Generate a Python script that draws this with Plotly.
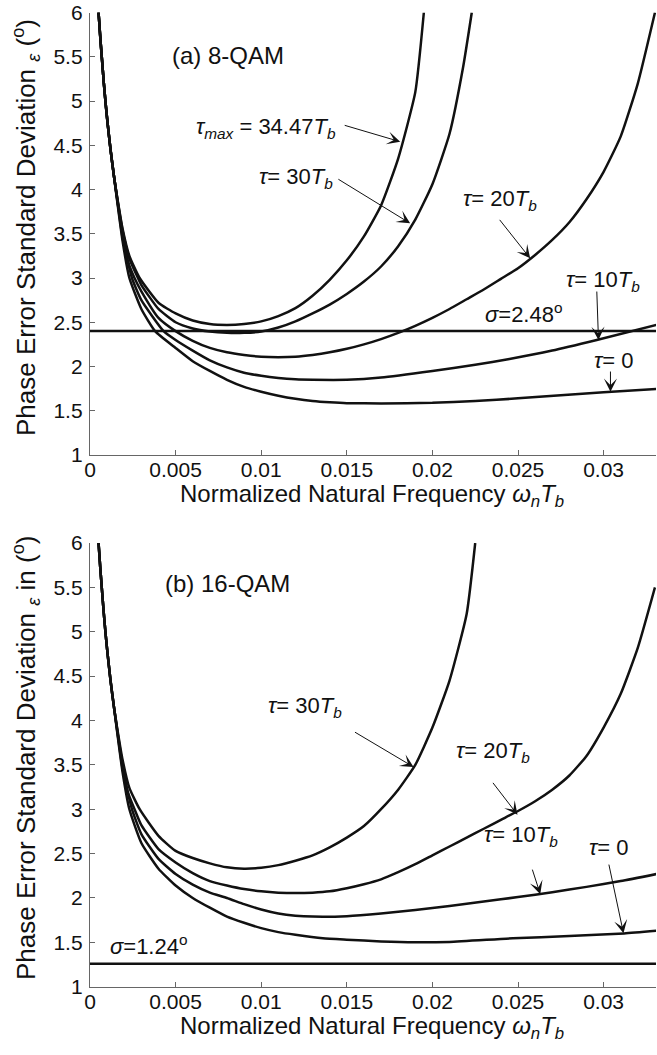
import plotly.graph_objects as go

# ---------------- data ----------------
x_ticks = [0, 0.005, 0.01, 0.015, 0.02, 0.025, 0.03]
x_tick_labels = ["0", "0.005", "0.01", "0.015", "0.02", "0.025", "0.03"]
y_ticks = [1, 1.5, 2, 2.5, 3, 3.5, 4, 4.5, 5, 5.5, 6]
y_tick_labels = ["1", "1.5", "2", "2.5", "3", "3.5", "4", "4.5", "5", "5.5", "6"]

# common steep start (all curves nearly coincide here)
x_start = [0.0005, 0.0006, 0.0007, 0.0008, 0.0009, 0.001, 0.0012, 0.0014]
y_start = [6.0, 5.72, 5.47, 5.22, 5.0, 4.8, 4.45, 4.15]

# (a) 8-QAM
xa_t0 = x_start + [0.0016, 0.0019, 0.0023, 0.003, 0.0038, 0.005, 0.006, 0.007, 0.008, 0.009, 0.010,
                   0.011, 0.012, 0.013, 0.014, 0.015, 0.017, 0.020, 0.0225, 0.025, 0.0275, 0.030,
                   0.0331]
ya_t0 = y_start + [3.85, 3.42, 3.0, 2.65, 2.40, 2.21, 2.06, 1.95, 1.85, 1.77, 1.715,
                   1.67, 1.635, 1.61, 1.595, 1.585, 1.583, 1.59, 1.61, 1.64, 1.675, 1.71,
                   1.745]

xa_t10 = x_start + [0.0016, 0.0019, 0.00245, 0.003, 0.0043, 0.005, 0.006, 0.007, 0.008, 0.009, 0.010,
                    0.011, 0.012, 0.013, 0.015, 0.017, 0.020, 0.0225, 0.0245, 0.027, 0.0296, 0.0331]
ya_t10 = y_start + [3.87, 3.46, 3.0, 2.75, 2.40, 2.30, 2.18, 2.07, 1.99, 1.93, 1.895,
                    1.87, 1.855, 1.85, 1.85, 1.875, 1.95, 2.02, 2.085, 2.18, 2.30, 2.47]

xa_t20 = x_start + [0.0016, 0.0019, 0.0022, 0.0026, 0.003, 0.004, 0.005, 0.006, 0.007, 0.008, 0.009,
                    0.010, 0.011, 0.012, 0.013, 0.014, 0.015, 0.016, 0.017, 0.018, 0.019, 0.020,
                    0.021, 0.022, 0.023, 0.024, 0.025, 0.026, 0.027, 0.028, 0.029, 0.030, 0.031,
                    0.032, 0.033]
ya_t20 = y_start + [3.88, 3.5, 3.2, 3.0, 2.85, 2.55, 2.40, 2.29, 2.21, 2.16, 2.13,
                    2.11, 2.105, 2.11, 2.13, 2.16, 2.2, 2.25, 2.31, 2.38, 2.46, 2.55,
                    2.65, 2.76, 2.87, 2.99, 3.11, 3.26, 3.43, 3.63, 3.89, 4.2, 4.6,
                    5.2, 6.0]

xa_t30 = x_start + [0.0016, 0.0019, 0.0023, 0.0028, 0.003, 0.004, 0.005, 0.006, 0.007, 0.008, 0.009,
                    0.010, 0.011, 0.012, 0.013, 0.014, 0.015, 0.016, 0.017, 0.018, 0.019, 0.020,
                    0.021, 0.0218, 0.0223]
ya_t30 = y_start + [3.89, 3.54, 3.22, 3.0, 2.92, 2.65, 2.50, 2.43, 2.395, 2.38, 2.38,
                    2.395, 2.44, 2.51, 2.6, 2.7, 2.82, 2.96, 3.13, 3.36, 3.66, 4.06,
                    4.63, 5.39, 6.0]

xa_tmax = x_start + [0.0016, 0.0019, 0.0023, 0.0029, 0.004, 0.005, 0.006, 0.007, 0.008, 0.009, 0.010,
                     0.011, 0.012, 0.013, 0.014, 0.015, 0.016, 0.017, 0.018, 0.019, 0.0195]
ya_tmax = y_start + [3.90, 3.56, 3.25, 3.0, 2.72, 2.60, 2.52, 2.48, 2.47, 2.48, 2.51,
                     2.57, 2.66, 2.80, 2.98, 3.2, 3.47, 3.82, 4.35, 5.1, 6.0]

sigma_a = 2.40   # drawn level of the sigma = 2.48 deg line

# (b) 16-QAM
xb_t0 = x_start + [0.0016, 0.0019, 0.0023, 0.003, 0.004, 0.005, 0.006, 0.007, 0.008, 0.009, 0.010,
                   0.011, 0.012, 0.0136, 0.015, 0.017, 0.019, 0.021, 0.0247, 0.028, 0.0312, 0.0331]
yb_t0 = y_start + [3.85, 3.42, 3.0, 2.62, 2.33, 2.14, 2.0, 1.89, 1.79, 1.72, 1.66,
                   1.615, 1.585, 1.546, 1.53, 1.51, 1.50, 1.505, 1.546, 1.57, 1.60, 1.63]

xb_t10 = x_start + [0.0016, 0.0019, 0.00245, 0.003, 0.004, 0.005, 0.006, 0.007, 0.008, 0.009, 0.010,
                    0.011, 0.012, 0.013, 0.015, 0.017, 0.019, 0.021, 0.023, 0.025, 0.027, 0.029,
                    0.031, 0.0331]
yb_t10 = y_start + [3.87, 3.46, 3.0, 2.72, 2.44, 2.27, 2.15, 2.06, 2.0, 1.93, 1.87,
                    1.825, 1.80, 1.79, 1.795, 1.825, 1.865, 1.91, 1.96, 2.01, 2.065, 2.125,
                    2.19, 2.27]

xb_t20 = x_start + [0.0016, 0.0019, 0.0022, 0.0026, 0.003, 0.004, 0.005, 0.006, 0.007, 0.008, 0.009,
                    0.010, 0.011, 0.012, 0.013, 0.014, 0.015, 0.016, 0.017, 0.018, 0.019, 0.020,
                    0.021, 0.022, 0.023, 0.024, 0.025, 0.026, 0.027, 0.028, 0.029, 0.030, 0.031,
                    0.032, 0.033]
yb_t20 = y_start + [3.88, 3.5, 3.2, 3.0, 2.82, 2.55, 2.40, 2.28, 2.19, 2.14, 2.10,
                    2.075, 2.06, 2.055, 2.06, 2.075, 2.11, 2.155, 2.21, 2.29, 2.38, 2.48,
                    2.58, 2.68, 2.78, 2.88, 2.98, 3.09, 3.22, 3.38, 3.6, 3.92, 4.3,
                    4.82, 5.5]

xb_t30 = x_start + [0.0016, 0.0019, 0.0023, 0.0029, 0.004, 0.005, 0.006, 0.007, 0.008, 0.009, 0.010,
                    0.011, 0.012, 0.013, 0.014, 0.015, 0.016, 0.017, 0.018, 0.019, 0.020, 0.021,
                    0.022, 0.0225]
yb_t30 = y_start + [3.90, 3.56, 3.24, 3.0, 2.70, 2.53, 2.45, 2.39, 2.345, 2.33, 2.34,
                    2.37, 2.42, 2.48, 2.57, 2.68, 2.81, 3.0, 3.22, 3.50, 3.92, 4.45,
                    5.2, 6.0]

sigma_b = 1.26   # drawn level of the sigma = 1.24 deg line

x_min, x_max = 0.0, 0.03306
y_min, y_max = 1.0, 6.0

# ---------------- styling ----------------
W, H = 657, 1055
ML, MR = 90, 1
FONT = "Liberation Sans, Arial, sans-serif"
INK = "#111111"
AXC = "#666666"


def pfy(py):
    """pixel row -> paper fraction"""
    return 1 - py / H


def pfx(px):
    """pixel column -> paper fraction"""
    return (px - ML) / (W - ML - MR)


fig = go.Figure()

curve_style = dict(mode="lines", line=dict(color=INK, width=2.5, shape="spline", smoothing=0.5),
                   showlegend=False, hoverinfo="skip")

panel_a = [(xa_t0, ya_t0), (xa_t10, ya_t10), (xa_t20, ya_t20), (xa_t30, ya_t30), (xa_tmax, ya_tmax)]
panel_b = [(xb_t0, yb_t0), (xb_t10, yb_t10), (xb_t20, yb_t20), (xb_t30, yb_t30)]

for xs, ys in panel_a:
    fig.add_trace(go.Scatter(x=xs, y=ys, xaxis="x", yaxis="y", **curve_style))
fig.add_trace(go.Scatter(x=[x_min, x_max], y=[sigma_a, sigma_a], xaxis="x", yaxis="y", mode="lines",
                         line=dict(color=INK, width=2.5), showlegend=False, hoverinfo="skip"))

for xs, ys in panel_b:
    fig.add_trace(go.Scatter(x=xs, y=ys, xaxis="x2", yaxis="y2", **curve_style))
fig.add_trace(go.Scatter(x=[x_min, x_max], y=[sigma_b, sigma_b], xaxis="x2", yaxis="y2", mode="lines",
                         line=dict(color=INK, width=2.5), showlegend=False, hoverinfo="skip"))

axis_common = dict(showgrid=False, zeroline=False, showline=True, linecolor=AXC, linewidth=1.3,
                   ticks="inside", ticklen=5, tickwidth=1, tickcolor=AXC, mirror=False,
                   tickfont=dict(family=FONT, size=21, color=INK), automargin=False,
                   ticklabeloverflow="allow")

xa_axis = dict(axis_common, range=[x_min, x_max], tickvals=x_ticks, ticktext=x_tick_labels,
               ticklabelstandoff=-4)
ya_axis = dict(axis_common, range=[y_min, y_max], tickvals=y_ticks, ticktext=y_tick_labels,
               ticklabelstandoff=2)

top_dom = [pfy(455), pfy(12.5)]
bot_dom = [pfy(986.7), pfy(543)]

fig.update_layout(
    width=W, height=H,
    margin=dict(l=ML, r=MR, t=0, b=0),
    paper_bgcolor="white", plot_bgcolor="white",
    showlegend=False,
    xaxis=dict(xa_axis, domain=[0, 1], anchor="y"),
    yaxis=dict(ya_axis, domain=top_dom, anchor="x"),
    xaxis2=dict(xa_axis, domain=[0, 1], anchor="y2"),
    yaxis2=dict(ya_axis, domain=bot_dom, anchor="x2"),
)

ann = []
TTL = dict(family=FONT, size=24, color=INK)

# text labels: (text, x, y, xref, yref, xanchor, size)
labels = [
    ("(a) 8-QAM", 0.00468, 5.51, "x", "y", "left", 24),
    ("<i>τ</i><sub><i>max</i></sub> = 34.47<i>T</i><sub><i>b</i></sub>", 0.01026, 4.70, "x", "y", "center", 22),
    ("<i>τ</i>= 30<i>T</i><sub><i>b</i></sub>", 0.01204, 4.13, "x", "y", "center", 22),
    ("<i>τ</i>= 20<i>T</i><sub><i>b</i></sub>", 0.02396, 3.88, "x", "y", "center", 22),
    ("<i>τ</i>= 10<i>T</i><sub><i>b</i></sub>", 0.02999, 2.97, "x", "y", "center", 22),
    ("<i>σ</i>=2.48<sup>o</sup>", 0.02536, 2.60, "x", "y", "center", 22),
    ("<i>τ</i>= 0", 0.0306, 2.07, "x", "y", "center", 22),
    ("(b) 16-QAM", 0.00428, 5.545, "x2", "y2", "left", 24),
    ("<i>τ</i>= 30<i>T</i><sub><i>b</i></sub>", 0.01257, 4.15, "x2", "y2", "center", 22),
    ("<i>τ</i>= 20<i>T</i><sub><i>b</i></sub>", 0.02356, 3.65, "x2", "y2", "center", 22),
    ("<i>τ</i>= 10<i>T</i><sub><i>b</i></sub>", 0.02520, 2.70, "x2", "y2", "center", 22),
    ("<i>τ</i>= 0", 0.03027, 2.57, "x2", "y2", "center", 22),
    ("<i>σ</i>=1.24<sup>o</sup>", 0.00347, 1.47, "x2", "y2", "center", 22),
]
for t, x, y, xr, yr, xa, fs in labels:
    ann.append(dict(text=t, x=x, y=y, xref=xr, yref=yr, xanchor=xa, yanchor="middle",
                    showarrow=False, font=dict(family=FONT, size=fs, color=INK)))

# arrows: (tip_x, tip_y, start_x, start_y, xref, yref)
arrows = [
    (0.01812, 4.54, 0.01479, 4.73, "x", "y"),
    (0.0187, 3.618, 0.01442, 4.126, "x", "y"),
    (0.02571, 3.222, 0.02386, 3.674, "x", "y"),
    (0.0297, 2.30, 0.0296, 2.864, "x", "y"),
    (0.0304, 1.715, 0.0304, 1.96, "x", "y"),
    (0.0189, 3.476, 0.01539, 3.878, "x2", "y2"),
    (0.02497, 2.938, 0.02347, 3.314, "x2", "y2"),
    (0.0263, 2.043, 0.02581, 2.336, "x2", "y2"),
    (0.03116, 1.603, 0.03029, 2.393, "x2", "y2"),
]
for tx, ty, sx, sy, xr, yr in arrows:
    ann.append(dict(text="", x=tx, y=ty, ax=sx, ay=sy, xref=xr, yref=yr, axref=xr, ayref=yr,
                    showarrow=True, arrowhead=3, arrowsize=2.2, arrowwidth=1, arrowcolor=INK,
                    standoff=0, startstandoff=0))

# axis titles
xt = "Normalized Natural Frequency <i>ω</i><sub><i>n</i></sub><i>T</i><sub><i>b</i></sub>"
ann.append(dict(text=xt, x=pfx(372), y=pfy(495), xref="paper", yref="paper", xanchor="center",
                yanchor="middle", showarrow=False, font=TTL))
ann.append(dict(text=xt, x=pfx(372), y=pfy(1027), xref="paper", yref="paper", xanchor="center",
                yanchor="middle", showarrow=False, font=TTL))
YT = dict(family=FONT, size=26, color=INK)
ann.append(dict(text="Phase Error Standard Deviation <sub><i>ε</i></sub> (<sup>o</sup>)",
                x=pfx(26), y=pfy(228), xref="paper", yref="paper", xanchor="center", yanchor="middle",
                textangle=-90, showarrow=False, font=YT))
ann.append(dict(text="Phase Error Standard Deviation <sub><i>ε</i></sub> in (<sup>o</sup>)",
                x=pfx(26), y=pfy(758), xref="paper", yref="paper", xanchor="center", yanchor="middle",
                textangle=-90, showarrow=False, font=YT))

fig.update_layout(annotations=ann)
# remove the browser's default page margin so the figure sits at the window's top-left corner
fig.write_html("out.html", config={"displayModeBar": False},
               post_script="document.body.style.margin='0';")
